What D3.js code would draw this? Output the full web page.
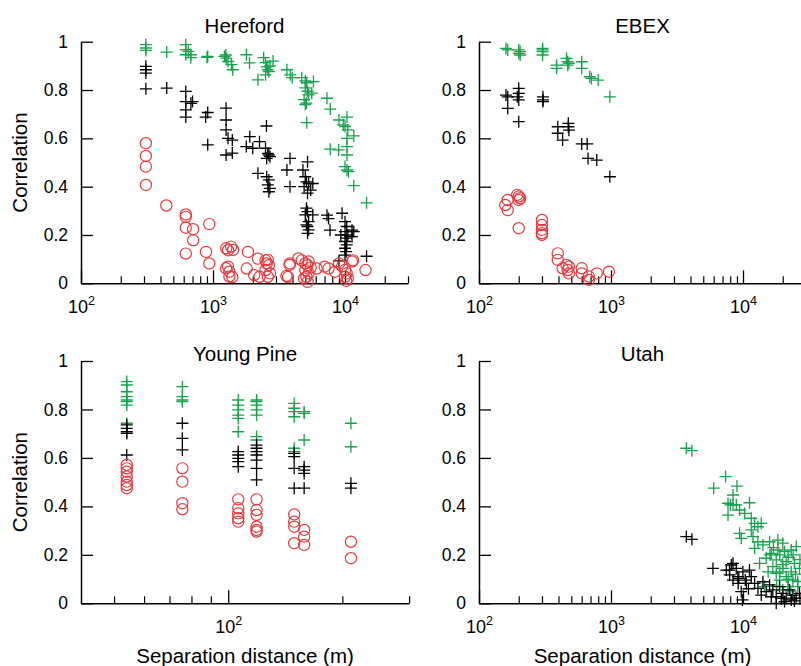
<!DOCTYPE html>
<html>
<head>
<meta charset="utf-8">
<script src="https://cdn.jsdelivr.net/npm/d3@7/dist/d3.min.js"></script>
<style>
  html, body { margin: 0; padding: 0; background: #fff; }
  svg { display: block; }
</style>
</head>
<body>
<svg id="chart" width="801" height="666"></svg>
<script>
// ---- Data: [separation distance (m), correlation] ----
const herefordGreen = [
  [310,0.988],[310,0.974],[310,0.964],[446,0.957],
  [622,0.988],[622,0.967],[622,0.946],[679,0.934],[679,0.946],[650,0.96],
  [912,0.939],[900,0.935],
  [1220,0.939],[1260,0.932],[1300,0.918],[1380,0.905],[1410,0.884],[1250,0.945],
  [1790,0.946],[1890,0.912],[2190,0.842],
  [2420,0.934],[2500,0.913],[2550,0.896],[2600,0.884],[2650,0.876],[2500,0.863],[2700,0.9],[2850,0.92],
  [3630,0.884],[3850,0.863],[3980,0.851],
  [4700,0.851],[5000,0.838],[5130,0.83],[5000,0.809],[5200,0.795],[5300,0.78],[4900,0.76],[5100,0.746],[5000,0.74],
  [5770,0.835],[5600,0.787],[5130,0.665],
  [7300,0.766],[7730,0.721],
  [9000,0.676],[9700,0.656],[10000,0.649],[10500,0.635],[10350,0.688],[11650,0.61],
  [7730,0.555],[8950,0.552],
  [10350,0.6],[10350,0.566],[10350,0.531],[10000,0.483],[10350,0.469],[10600,0.462],
  [11650,0.404],[14560,0.333]
];
const herefordBlack = [
  [310,0.898],[310,0.884],[310,0.870],[310,0.805],[446,0.808],
  [622,0.794],[622,0.752],[622,0.718],[622,0.688],[700,0.752],[680,0.745],
  [912,0.707],[880,0.688],[912,0.573],
  [1256,0.725],[1256,0.676],[1256,0.635],[1300,0.6],[1256,0.531],[1400,0.593],[1400,0.539],
  [1786,0.566],[1900,0.607],[2000,0.559],[2250,0.586],
  [2540,0.651],[2500,0.559],[2600,0.538],[2650,0.531],[2700,0.524],[2550,0.517],
  [2190,0.455],[2550,0.441],[2650,0.428],[2600,0.407],[2700,0.393],[2650,0.379],
  [3830,0.517],[3630,0.469],[3830,0.4],
  [4800,0.469],[5000,0.441],[5100,0.42],[5300,0.413],[4900,0.4],[5500,0.386],[5200,0.373],[5200,0.503],[5700,0.413],
  [5100,0.311],[5200,0.297],[5000,0.283],[5300,0.255],[5100,0.242],[5200,0.235],[5300,0.221],[5200,0.207],[5700,0.283],
  [7300,0.282],[7500,0.268],[7700,0.22],
  [9500,0.29],[10000,0.255],[10300,0.235],[10000,0.214],[10500,0.2],[10200,0.187],[10000,0.173],[10300,0.159],
  [10000,0.145],[10200,0.131],[10000,0.117],[11650,0.214],[11300,0.22],[11300,0.193],[9300,0.2],
  [9000,0.093],[14560,0.112]
];
const herefordRed = [
  [310,0.58],[310,0.527],[310,0.483],[310,0.407],[443,0.322],
  [622,0.285],[622,0.275],[622,0.23],[622,0.123],[707,0.224],[707,0.178],
  [937,0.245],[885,0.13],[937,0.082],
  [1260,0.145],[1300,0.137],[1256,0.062],[1400,0.026],[1371,0.152],[1420,0.138],[1300,0.069],[1330,0.048],[1330,0.028],
  [1840,0.13],[1800,0.061],[2050,0.034],
  [2190,0.102],[2500,0.095],[2550,0.082],[2650,0.075],[2500,0.055],[2700,0.041],[2600,0.027],[2250,0.027],[2600,0.097],
  [3700,0.026],[3830,0.082],[3800,0.076],[3600,0.03],[4430,0.103],
  [4700,0.095],[5000,0.082],[5200,0.075],[5000,0.055],[5300,0.041],[5100,0.027],[5200,0.006],[4900,0.02],[5500,0.065],[5300,0.09],
  [6100,0.061],[7000,0.069],[7500,0.061],[8400,0.048],
  [9000,0.082],[9500,0.07],[10000,0.055],[10300,0.041],[10000,0.027],[10500,0.02],[11500,0.095],[10200,0.01],[11300,0.09],
  [14300,0.055]
];

const ebexGreen = [
  [160,0.972],[165,0.966],[200,0.966],[205,0.959],[200,0.952],[205,0.945],
  [303,0.972],[303,0.966],[303,0.959],[303,0.945],
  [387,0.903],[387,0.89],[460,0.931],[470,0.917],[480,0.91],[470,0.903],
  [600,0.917],[600,0.89],[690,0.855],[710,0.848],[800,0.841],[980,0.772]
];
const ebexBlack = [
  [160,0.779],[165,0.772],[165,0.724],
  [200,0.807],[200,0.786],[195,0.772],[200,0.759],[200,0.669],
  [305,0.772],[305,0.759],[305,0.752],
  [395,0.648],[395,0.621],[430,0.593],[475,0.662],[475,0.648],[480,0.634],
  [600,0.577],[660,0.577],[670,0.517],[780,0.51],[980,0.441]
];
const ebexRed = [
  [158,0.324],[165,0.345],[165,0.303],
  [195,0.366],[200,0.359],[205,0.352],[200,0.345],[200,0.228],
  [300,0.262],[300,0.241],[300,0.221],[300,0.207],[300,0.2],
  [395,0.124],[395,0.097],[430,0.062],[460,0.076],[480,0.069],[470,0.055],[480,0.041],
  [600,0.062],[600,0.041],[680,0.028],[680,0.014],[780,0.041],[965,0.048]
];

const youngPineGreen = [
  [54,0.915],[54,0.901],[54,0.873],[54,0.853],[54,0.839],[54,0.832],[54,0.818],[54,0.743],
  [75.7,0.894],[75.7,0.853],[75.7,0.839],[75.7,0.832],
  [106.3,0.839],[106.3,0.818],[106.3,0.798],[106.3,0.777],[106.3,0.763],[106.3,0.708],
  [118.8,0.839],[118.8,0.832],[118.8,0.818],[118.8,0.798],[118.8,0.777],[118.8,0.688],[118.8,0.674],
  [149.3,0.825],[149.3,0.805],[149.3,0.791],[149.3,0.770],[149.3,0.64],[149.3,0.626],
  [158.6,0.791],[158.6,0.784],[158.6,0.674],
  [210.7,0.743],[210.7,0.646]
];
const youngPineBlack = [
  [54,0.736],[54,0.722],[54,0.708],[54,0.701],[54,0.612],
  [75.7,0.743],[75.7,0.681],[75.7,0.633],
  [106.3,0.626],[106.3,0.612],[106.3,0.598],[106.3,0.585],[106.3,0.564],
  [118.8,0.653],[118.8,0.64],[118.8,0.626],[118.8,0.612],[118.8,0.591],[118.8,0.557],[118.8,0.509],
  [149.3,0.619],[149.3,0.605],[149.3,0.557],[149.3,0.475],
  [158.6,0.564],[158.6,0.550],[158.6,0.536],[158.6,0.475],
  [210.7,0.495],[210.7,0.475]
];
const youngPineRed = [
  [54,0.571],[54,0.557],[54,0.543],[54,0.523],[54,0.502],[54,0.488],[54,0.475],
  [75.7,0.557],[75.7,0.502],[75.7,0.413],[75.7,0.388],
  [106.3,0.429],[106.3,0.392],[106.3,0.371],[106.3,0.351],[106.3,0.337],
  [118.8,0.429],[118.8,0.385],[118.8,0.365],[118.8,0.316],[118.8,0.303],[118.8,0.296],
  [149.3,0.367],[149.3,0.337],[149.3,0.316],[149.3,0.248],
  [158.6,0.303],[158.6,0.275],[158.6,0.241],
  [210.7,0.254],[210.7,0.186]
];

const utahGreen = [
  [3720,0.64],[4100,0.63],[6000,0.475],[7380,0.523],[9000,0.484],[8400,0.447],
  [8020,0.406],[8400,0.406],[7700,0.413],[7700,0.364],[8900,0.406],[11200,0.415],
  [9420,0.385],[10300,0.371],[11550,0.351],[12250,0.33],[13750,0.33],[12970,0.316],
  [9420,0.289],[9700,0.268],[11550,0.303],[11900,0.275],[12970,0.254],[14150,0.241],
  [15900,0.254],[12250,0.227],[18370,0.261],[20040,0.248],[23200,0.22],[18370,0.22],
  [20650,0.213],[25300,0.234],[16370,0.206],[15000,0.186],[13360,0.165],[17860,0.179],
  [21250,0.172],[24550,0.165],[16830,0.151],[20040,0.144],[23200,0.13],[26800,0.144],
  [17860,0.124],[21250,0.11],[18920,0.096],[23870,0.096],[14550,0.069],[21880,0.069],
  [26000,0.069],[20040,0.055],
  [16000,0.2],[19000,0.2],[22000,0.19],[24000,0.2],[17000,0.23],[20000,0.16],[25000,0.12],
  [22000,0.1],[19000,0.13],[15500,0.13],[27000,0.18],[26000,0.09],[18000,0.07],[23000,0.05]
];
const utahBlack = [
  [3720,0.275],[4100,0.264],[5920,0.144],[7480,0.137],[8160,0.158],[8890,0.144],
  [7920,0.117],[8400,0.096],[9140,0.11],[9980,0.13],[11200,0.137],[11550,0.11],
  [10600,0.082],[9700,0.048],[12250,0.082],[12970,0.062],[13750,0.034],[14150,0.089],
  [15900,0.076],[16830,0.055],[17860,0.027],[18920,0.069],[17860,0.0],[20040,0.041],
  [21250,0.021],[22500,0.055],[23870,0.034],[25300,0.021],[26800,0.041],[20650,0.007],
  [23200,0.014],[16370,0.027],[15000,0.048],[8400,0.165],[7900,0.137],[9300,0.103],
  [9900,0.014],[9200,0.082],[10400,0.096],[11000,0.06],[19500,0.02],[24500,0.01],[27000,0.02]
];

// Axis ticks and labels
const yTickValues = [0, 0.2, 0.4, 0.6, 0.8, 1];
const yTickLabels = ["0", "0.2", "0.4", "0.6", "0.8", "1"];
const xMajorTicks = [100, 1000, 10000];
const yAxisTitle = "Correlation";
const xAxisTitle = "Separation distance (m)";

// ---- Layout ----
const FONT = "'Liberation Sans', Arial, Helvetica, sans-serif";
const GREEN = "#17a24c";
const RED = "#e8383d";

const panels = [
  { title: "Hereford", titleY: 32.5, xDomain: [100, 30000], xRange: [81, 408], yRange: [283.3, 41.7],
    green: herefordGreen, black: herefordBlack, red: herefordRed, yTitle: true, xTitle: false },
  { title: "EBEX", titleY: 32.5, xDomain: [100, Math.pow(10, 4.5)], xRange: [479, 809], yRange: [283.3, 41.7],
    green: ebexGreen, black: ebexBlack, red: ebexRed, yTitle: false, xTitle: false },
  { title: "Young Pine", titleY: 360.5, xDomain: [40.9, 300], xRange: [81, 409.1], yRange: [603.3, 361],
    green: youngPineGreen, black: youngPineBlack, red: youngPineRed, yTitle: true, xTitle: true },
  { title: "Utah", titleY: 361, xDomain: [100, Math.pow(10, 4.5)], xRange: [479, 809], yRange: [603.3, 361],
    green: utahGreen, black: utahBlack, red: [], yTitle: false, xTitle: true }
];

const svg = d3.select("#chart");

function minorTicks(domain) {
  const out = [];
  const lo = Math.floor(Math.log10(domain[0])), hi = Math.ceil(Math.log10(domain[1]));
  for (let k = lo; k <= hi; k++) {
    for (let m = 2; m <= 9; m++) {
      const v = m * Math.pow(10, k);
      if (v >= domain[0] && v <= domain[1]) out.push(v);
    }
  }
  return out;
}

function drawPanel(p) {
  const x = d3.scaleLog().domain(p.xDomain).range(p.xRange);
  const y = d3.scaleLinear().domain([0, 1]).range(p.yRange);
  const g = svg.append("g");
  const y0 = p.yRange[0];

  // minor x ticks
  g.append("g")
    .attr("transform", `translate(0,${y0})`)
    .call(d3.axisBottom(x).tickValues(minorTicks(p.xDomain)).tickSizeInner(-7).tickSizeOuter(0).tickFormat(() => ""))
    .call(a => a.select(".domain").remove())
    .call(a => a.selectAll(".tick line").attr("stroke", "#000").attr("stroke-width", 1.2));

  // major x ticks with power-of-ten labels
  const majors = xMajorTicks.filter(v => v >= p.xDomain[0] && v <= p.xDomain[1]);
  const xa = g.append("g")
    .attr("transform", `translate(0,${y0})`)
    .call(d3.axisBottom(x).tickValues(majors).tickSizeInner(-13).tickSizeOuter(0).tickFormat(() => ""));
  xa.select(".domain").attr("stroke", "#000").attr("stroke-width", 1.5);
  xa.selectAll(".tick line").attr("stroke", "#000").attr("stroke-width", 1.3);
  xa.selectAll(".tick text").each(function (d) {
    const t = d3.select(this)
      .attr("y", 30).attr("dy", null)
      .attr("font-family", FONT).attr("font-size", 18).attr("fill", "#000")
      .attr("text-anchor", "middle");
    t.text(null);
    t.append("tspan").text("10");
    t.append("tspan").attr("font-size", 12.5).attr("dy", -8).text(String(Math.round(Math.log10(d))));
  });

  // y axis
  const ya = g.append("g")
    .attr("transform", `translate(${p.xRange[0]},0)`)
    .call(d3.axisLeft(y).tickValues(yTickValues).tickSizeInner(-12).tickSizeOuter(0).tickPadding(13)
      .tickFormat((d, i) => yTickLabels[i]));
  ya.select(".domain").attr("stroke", "#000").attr("stroke-width", 1.5);
  ya.selectAll(".tick line").attr("stroke", "#000").attr("stroke-width", 1.3);
  ya.selectAll(".tick text").attr("font-family", FONT).attr("font-size", 17.5).attr("fill", "#000");

  // title
  const cx = (p.xRange[0] + Math.min(p.xRange[1], 806)) / 2;
  g.append("text")
    .attr("x", cx).attr("y", p.titleY)
    .attr("text-anchor", "middle")
    .attr("font-family", FONT).attr("font-size", 20.5)
    .text(p.title);

  if (p.yTitle) {
    g.append("text")
      .attr("transform", `translate(27,${(p.yRange[0] + p.yRange[1]) / 2}) rotate(-90)`)
      .attr("text-anchor", "middle")
      .attr("font-family", FONT).attr("font-size", 20.5)
      .text(yAxisTitle);
  }
  if (p.xTitle) {
    g.append("text")
      .attr("x", cx).attr("y", 663)
      .attr("text-anchor", "middle")
      .attr("font-family", FONT).attr("font-size", 20.5)
      .text(xAxisTitle);
  }

  // markers
  const plus = (d) => {
    const px = x(d[0]), py = y(d[1]);
    return `M${px - 6},${py}h12M${px},${py - 6}v12`;
  };
  g.append("g").selectAll("path").data(p.green).join("path")
    .attr("d", plus).attr("stroke", GREEN).attr("stroke-width", 1.3).attr("fill", "none");
  g.append("g").selectAll("path").data(p.black).join("path")
    .attr("d", plus).attr("stroke", "#000").attr("stroke-width", 1.3).attr("fill", "none");
  g.append("g").selectAll("circle").data(p.red).join("circle")
    .attr("cx", d => x(d[0])).attr("cy", d => y(d[1])).attr("r", 5.6)
    .attr("stroke", RED).attr("stroke-width", 1.2).attr("fill", "none");
}

panels.forEach(drawPanel);
</script>
</body>
</html>
